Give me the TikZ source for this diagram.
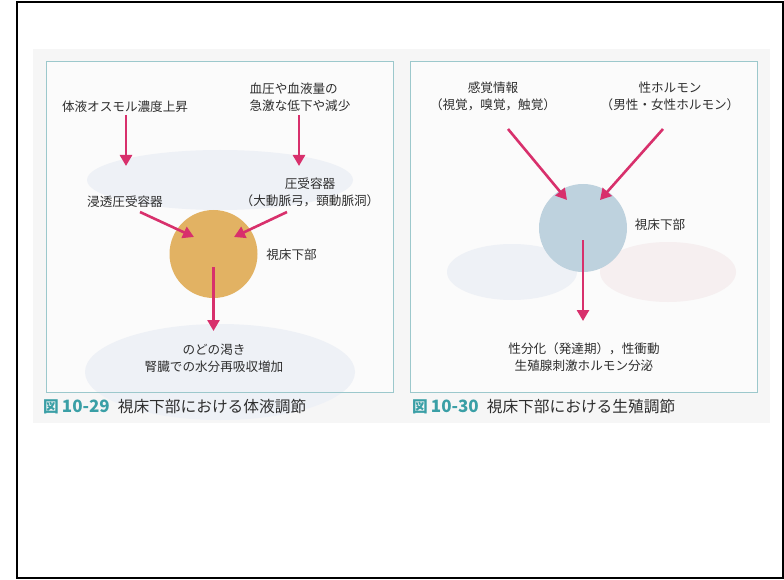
\documentclass[tikz,border=0pt]{standalone}
\usepackage{fontspec}
\setmainfont{Noto Sans CJK JP}
\usetikzlibrary{arrows.meta}
\definecolor{mag}{HTML}{D8306C}
\definecolor{orng}{HTML}{E2B263}
\definecolor{blu}{HTML}{BED2DE}
\definecolor{tealc}{HTML}{3A9FA6}
\definecolor{txt}{HTML}{2E2E2E}
\definecolor{boxc}{HTML}{9CC8CC}
\definecolor{page}{HTML}{F6F6F6}
\definecolor{ghostb}{HTML}{EEF1F6}
\definecolor{ghostr}{HTML}{F6EFF0}
\tikzset{
  lbl/.style={font=\fontsize{12.6}{17}\selectfont, text=txt, inner sep=0pt, align=center},
  figcap/.style={font=\fontsize{15.7}{18}\selectfont, text=txt, inner sep=0pt, anchor=west},
  arr/.style={draw=mag, line width=2.6pt, -{Triangle[width=12pt,length=11pt]}},
  hypo/.style={circle, inner sep=0pt, minimum size=88pt},
  panel/.style={draw=boxc, line width=0.8pt}
}
\begin{document}
\begin{tikzpicture}[x=1pt,y=-1pt]
\useasboundingbox (0,0) rectangle (784,580);
\fill[white] (0,0) rectangle (784,580);
\draw[black, line width=2pt] (17,2) rectangle (783,578);
% scanned page
\fill[page] (33,49) rectangle (770,423);
\fill[white!55!page] (46,61) rectangle (393,392);
\fill[white!55!page] (410,61) rectangle (757,392);
% faint show-through shapes
\fill[ghostb] (220,180) ellipse (133pt and 30pt);
\fill[ghostb] (220,372) ellipse (135pt and 48pt);
\fill[ghostb] (512,272) ellipse (65pt and 28pt);
\fill[ghostr] (668,272) ellipse (68pt and 30pt);
\draw[panel] (46,61) rectangle (393,392);
\draw[panel] (410,61) rectangle (757,392);

% ---- left panel ----
\node[hypo, fill=orng] (h1) at (213.5,254) {};
\node[lbl] (t1) at (125,107) {体液オスモル濃度上昇};
\node[lbl, align=left] (t2) at (300,97.5) {血圧や血液量の\\急激な低下や減少};
\node[lbl] (t3) at (125,202) {浸透圧受容器};
\node[lbl] (t4) at (310,192.5) {圧受容器\\（大動脈弓，頸動脈洞）};
\node[lbl] (t5) at (291.5,255) {視床下部};
\node[lbl] (t6) at (214,358) {のどの渇き\\腎臓での水分再吸収増加};
\node[figcap] (c1) at (43,407) {\textcolor{tealc}{\bfseries 図\hspace{3pt}{\fontsize{17}{18}\selectfont 10-29}}\hspace{8pt}視床下部における体液調節};

\coordinate (a1s) at (126,115); \coordinate (a1e) at (126,166);
\coordinate (a2s) at (299,115); \coordinate (a2e) at (299,166);
\coordinate (a3s) at (140,212); \coordinate (a3e) at (194,237);
\coordinate (a4s) at (287,212); \coordinate (a4e) at (234,237);
\coordinate (a5s) at (213.5,267); \coordinate (a5e) at (213.5,331);
\draw[arr] (a1s) -- (a1e);
\draw[arr] (a2s) -- (a2e);
\draw[arr] (a3s) -- (a3e);
\draw[arr] (a4s) -- (a4e);
\draw[arr] (a5s) -- (a5e);

% ---- right panel ----
\node[hypo, fill=blu] (h2) at (583,228) {};
\node[lbl] (r1) at (493,96) {感覚情報\\（視覚，嗅覚，触覚）};
\node[lbl] (r2) at (670,96) {性ホルモン\\（男性・女性ホルモン）};
\node[lbl] (r3) at (660,225) {視床下部};
\node[lbl] (r4) at (584,357.5) {性分化（発達期），性衝動\\生殖腺刺激ホルモン分泌};
\node[figcap] (c2) at (412,407) {\textcolor{tealc}{\bfseries 図\hspace{3pt}{\fontsize{17}{18}\selectfont 10-30}}\hspace{8pt}視床下部における生殖調節};

\coordinate (b1s) at (508,129); \coordinate (b1e) at (567,200);
\coordinate (b2s) at (663,129); \coordinate (b2e) at (600,200);
\coordinate (b3s) at (583,240); \coordinate (b3e) at (583,321);
\draw[arr] (b1s) -- (b1e);
\draw[arr] (b2s) -- (b2e);
\draw[arr] (b3s) -- (b3e);
\end{tikzpicture}
\end{document}
